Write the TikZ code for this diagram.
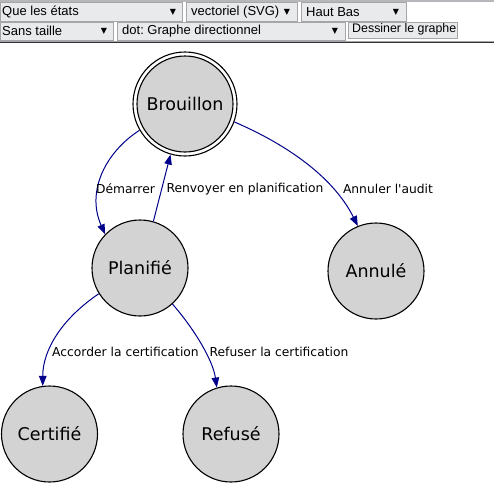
\documentclass[tikz,border=0pt]{standalone}
\usepackage{fontspec}
\setmainfont{DejaVu Sans}
\newfontfamily\uifont{Liberation Sans}
\newfontfamily\symfont{DejaVu Sans}
\usetikzlibrary{arrows.meta}
\frenchspacing
\definecolor{edgeblue}{RGB}{0,0,139}
\definecolor{nodegray}{RGB}{211,211,211}
\definecolor{wfill}{RGB}{233,234,236}
\definecolor{wborder}{RGB}{165,165,170}
\tikzset{
  state/.style={circle, draw=black, line width=1.1pt, fill=nodegray, minimum size=96pt, inner sep=0pt,
    font=\fontsize{17.5}{20}\selectfont},
  ring/.style={circle, draw=black, line width=1.1pt, minimum size=104pt, inner sep=0pt},
  edge/.style={draw=edgeblue, line width=1pt, -{Triangle[length=10pt,width=7.5pt]}},
  elabel/.style={inner sep=0pt, font=\fontsize{12.3}{14}\selectfont},
  widget/.style={draw=wborder, fill=wfill, line width=0.8pt},
  wtext/.style={anchor=west, inner sep=0pt, font=\uifont\fontsize{13}{15}\selectfont},
  btext/.style={anchor=west, inner sep=0pt, font=\uifont\fontsize{12.4}{14}\selectfont},
  warrow/.style={inner sep=0pt, font=\symfont\fontsize{8}{9}\selectfont},
}
\begin{document}
\begin{tikzpicture}[x=1pt,y=-1pt]
\useasboundingbox (0,0) rectangle (494,501);
\fill[white] (0,0) rectangle (494,501);
% toolbar
\fill[wborder!80] (0,0) rectangle (494,1.5);
\draw[widget] (0.5,2) rectangle (182,21);
\node[wtext] (t1) at (2,12) {Que les états};
\node[warrow] (a1) at (173,12) {▼};
\draw[widget] (186,2) rectangle (297,21);
\node[wtext] (t2) at (191,12) {vectoriel (SVG)};
\node[warrow] (a2) at (287,12) {▼};
\draw[widget] (301,2) rectangle (406,21);
\node[wtext] (t3) at (306,12) {Haut Bas};
\node[warrow] (a3) at (396,12) {▼};
\draw[widget] (0.5,22) rectangle (113,40);
\node[wtext] (t4) at (2,31) {Sans taille};
\node[warrow] (a4) at (104,31) {▼};
\draw[widget] (117,22) rectangle (345,40);
\node[wtext] (t5) at (122,31) {dot: Graphe directionnel};
\node[warrow] (a5) at (335,31) {▼};
\draw[widget] (348.5,22) rectangle (457.5,38);
\node[btext] (t6) at (352,29.5) {Dessiner le graphe};
\fill[wborder] (0,40.8) rectangle (494,41.8);
\fill[black!80] (0,41.8) rectangle (494,43.3);
% graph
\node[state] (br) at (185,104) {Brouillon};
\node[ring] (bro) at (185,104) {};
\node[state] (pl) at (140,268) {Planifié};
\node[state] (an) at (376,271) {Annulé};
\node[state] (ce) at (49.5,434) {Certifié};
\node[state] (re) at (231,434) {Refusé};
\draw[edge] (bro.210) .. controls +(-34,22) and +(-19,-43) .. (pl.136);
\draw[edge] (pl.74) -- (bro.254);
\draw[edge] (bro.340) .. controls +(58,25) and +(-23,-46) .. (an.112);
\draw[edge] (pl.212) .. controls +(-37,25) and +(0,-36) .. (ce.98);
\draw[edge] (pl.312) .. controls +(21,24) and +(-4,-28) .. (re.107);
\node[elabel] (l1) at (125.5,189) {Démarrer};
\node[elabel] (l2) at (245,189) {Renvoyer en planification};
\node[elabel] (l3) at (388,189) {Annuler l\textquotesingle audit};
\node[elabel] (l4) at (125.5,352) {Accorder la certification};
\node[elabel] (l5) at (279,352) {Refuser la certification};
\end{tikzpicture}
\end{document}
